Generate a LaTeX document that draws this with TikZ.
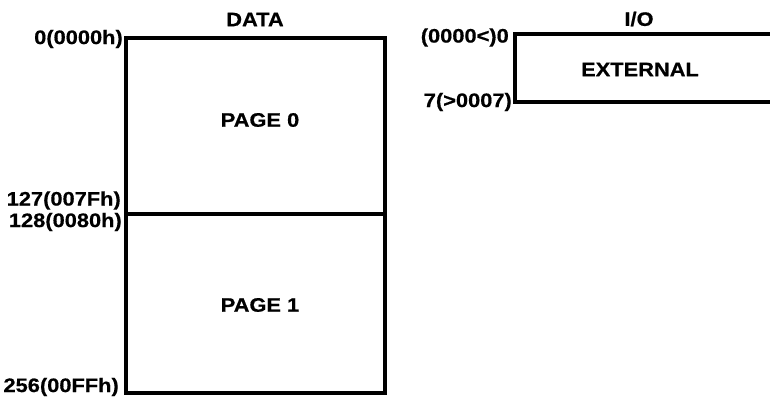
\documentclass[tikz,border=0pt]{standalone}
\usepackage{fontspec}
\setmainfont{Liberation Sans}[FakeStretch=1.12, FakeBold=0.6]
\begin{document}
\begin{tikzpicture}[x=1pt,y=-1pt,
  lbl/.style={font=\fontsize{19.5}{21}\selectfont\bfseries, inner sep=0pt},
  boxline/.style={line width=3.2pt, line join=miter}]
\useasboundingbox (0,0) rectangle (770,398);
% DATA memory
\draw[boxline] (126,38) rectangle (385,393);
\draw[boxline] (126,214) -- (385,214);
\node[lbl] (data) at (255,19.5) {DATA};
\node[lbl] (p0) at (260,120) {PAGE 0};
\node[lbl] (p1) at (260,305) {PAGE 1};
\node[lbl, anchor=east] (a0) at (123,39) {0(0000h)};
\node[lbl, anchor=east] (a127) at (121,200.5) {127(007Fh)};
\node[lbl, anchor=east] (a128) at (122,222) {128(0080h)};
\node[lbl, anchor=east] (a256) at (119,387) {256(00FFh)};
% I/O memory
\draw[boxline] (771,34) -- (515,34) -- (515,102) -- (771,102);
\node[lbl] (io) at (639,19) {I/O};
\node[lbl] (ext) at (640,69.5) {EXTERNAL};
\node[lbl, anchor=east] (i0) at (509,37.5) {(0000<)0};
\node[lbl, anchor=east] (i7) at (512,102) {7(>0007)};
\end{tikzpicture}
\end{document}
